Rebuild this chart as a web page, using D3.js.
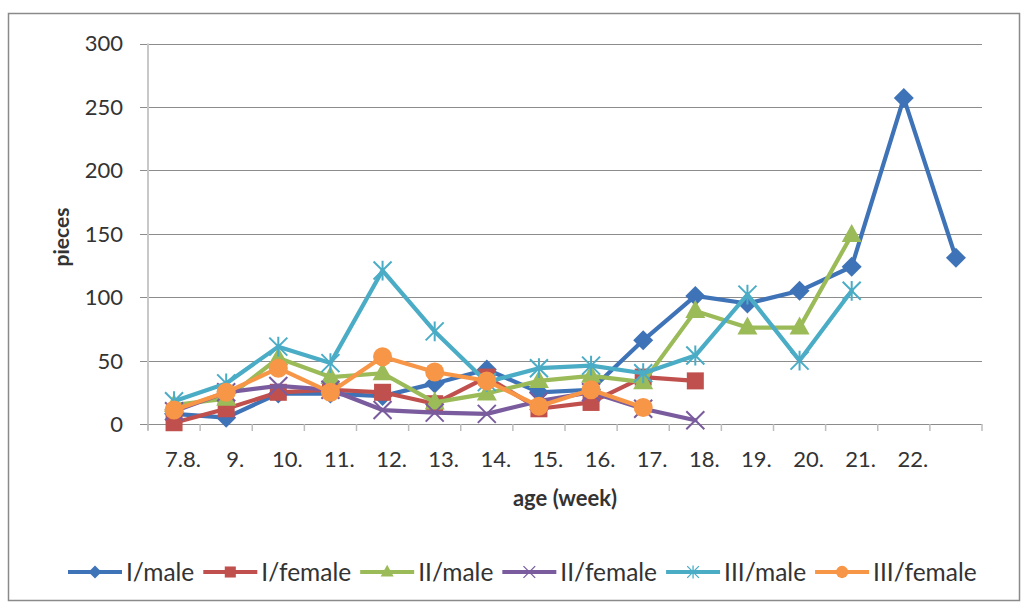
<!DOCTYPE html>
<html>
<head>
<meta charset="utf-8">
<script src="https://cdn.jsdelivr.net/npm/d3@7"></script>
<style>
  body { margin: 0; background: #fff; }
  text { font-family: Lato, "Open Sans", sans-serif; fill: #333; }
</style>
</head>
<body>
<svg id="chart" width="1027" height="605"></svg>
<script>
// Week categories (the last week has no label on the axis)
const categories = ["7.8.", "9.", "10.", "11.", "12.", "13.", "14.", "15.", "16.", "17.", "18.", "19.", "20.", "21.", "22.", ""];
const yTicks = [0, 50, 100, 150, 200, 250, 300];

// Counts per week for each group
const iMale     = [8, 5, 24, 24, 22, 32, 43, 25, 27, 66, 101, 95, 105, 124, 257, 131];
const iFemale   = [1, 12, 25, 27, 25, 16, 37, 12, 17, 37, 34, null, null, null, null, null];
const iiMale    = [15, 20, 52, 37, 40, 17, 24, 34, 38, 33, 89, 76, 76, 149, null, null];
const iiFemale  = [10, 25, 30, 27, 11, 9, 8, 18, 25, 12, 3, null, null, null, null, null];
const iiiMale   = [18, 32, 61, 48, 121, 73, 33, 44, 46, 40, 54, 102, 50, 105, null, null];
const iiiFemale = [11, 25, 44, 25, 53, 41, 34, 14, 27, 13, null, null, null, null, null, null];

const seriesNames  = ["I/male", "I/female", "II/male", "II/female", "III/male", "III/female"];
const seriesValues = [iMale, iFemale, iiMale, iiFemale, iiiMale, iiiFemale];
const seriesColors = ["#3f73b8", "#c0504d", "#9bbb59", "#7a5c9e", "#4bacc6", "#f79646"];
const seriesMarkers = ["diamond", "square", "triangle", "x", "asterisk", "circle"];

const svg = d3.select("#chart");

// Outer chart frame
svg.append("rect")
  .attr("x", 8.5).attr("y", 13.5)
  .attr("width", 1011).attr("height", 587)
  .attr("fill", "#fff").attr("stroke", "#8a8a8a").attr("stroke-width", 1.5);

const plot = { left: 148, right: 982, top: 43.5, bottom: 424 };

const x = d3.scaleBand().domain(d3.range(categories.length))
  .range([plot.left, plot.right]).paddingInner(0).paddingOuter(0);
const y = d3.scaleLinear().domain([0, 300]).range([plot.bottom, plot.top]);

// Horizontal gridlines
svg.append("g").selectAll("line").data(yTicks).join("line")
  .attr("x1", plot.left - 8).attr("x2", plot.right)
  .attr("y1", d => Math.round(y(d)) + 0.5).attr("y2", d => Math.round(y(d)) + 0.5)
  .attr("stroke", "#8c8c8c").attr("stroke-width", 1.2);

// Y axis labels
const yAxis = d3.axisLeft(y).tickValues(yTicks).tickSize(0).tickPadding(0);
const gy = svg.append("g").attr("transform", `translate(${plot.left - 25},0)`).call(yAxis);
gy.select(".domain").remove();
gy.selectAll("text").attr("font-size", 22).attr("dy", "0.34em")
  .style("font-family", "Lato, sans-serif").attr("fill", "#333");

// Vertical axis line
svg.append("line")
  .attr("x1", plot.left).attr("x2", plot.left)
  .attr("y1", plot.top).attr("y2", plot.bottom + 6)
  .attr("stroke", "#c8c8c8").attr("stroke-width", 2);

// X axis line and tick marks between categories
svg.append("line")
  .attr("x1", plot.left - 8).attr("x2", plot.right)
  .attr("y1", plot.bottom + 0.5).attr("y2", plot.bottom + 0.5)
  .attr("stroke", "#8c8c8c").attr("stroke-width", 1.2);
const boundaries = d3.range(categories.length + 1).map(i => plot.left + i * x.bandwidth());
svg.append("g").selectAll("line").data(boundaries).join("line")
  .attr("x1", d => d).attr("x2", d => d)
  .attr("y1", plot.bottom).attr("y2", plot.bottom + 7)
  .attr("stroke", "#bdbdbd").attr("stroke-width", 1.5);

// X tick labels
svg.append("g").selectAll("text").data(categories).join("text")
  .attr("x", (d, i) => x(i) + x.bandwidth() / 2 + 9)
  .attr("y", 467)
  .attr("text-anchor", "middle")
  .attr("font-size", 22)
  .text(d => d);

// Axis titles
svg.append("text")
  .attr("x", 565).attr("y", 506)
  .attr("text-anchor", "middle")
  .attr("font-size", 22).attr("font-weight", "bold")
  .attr("fill", "#222")
  .text("age (week)");
svg.append("text")
  .attr("transform", "translate(69,237) rotate(-90)")
  .attr("text-anchor", "middle")
  .attr("font-size", 21).attr("font-weight", "bold")
  .attr("fill", "#222")
  .text("pieces");

// Marker drawing
function drawMarker(g, type, color, cx, cy, scale = 1) {
  const s = scale;
  if (type === "diamond") {
    g.append("path").attr("d", `M${cx},${cy - 10 * s}L${cx + 10 * s},${cy}L${cx},${cy + 10 * s}L${cx - 10 * s},${cy}Z`)
      .attr("fill", color);
  } else if (type === "square") {
    g.append("rect").attr("x", cx - 8.5 * s).attr("y", cy - 8.5 * s)
      .attr("width", 17 * s).attr("height", 17 * s).attr("fill", color);
  } else if (type === "triangle") {
    g.append("path").attr("d", `M${cx},${cy - 11 * s}L${cx + 10 * s},${cy + 7 * s}L${cx - 10 * s},${cy + 7 * s}Z`)
      .attr("fill", color);
  } else if (type === "circle") {
    g.append("circle").attr("cx", cx).attr("cy", cy).attr("r", 9.5 * s).attr("fill", color);
  } else if (type === "x") {
    const r = 9 * s;
    g.append("path").attr("d", `M${cx - r},${cy - r}L${cx + r},${cy + r}M${cx - r},${cy + r}L${cx + r},${cy - r}`)
      .attr("stroke", color).attr("stroke-width", 2 * s).attr("fill", "none");
  } else if (type === "asterisk") {
    const r = 9 * s;
    g.append("path").attr("d", `M${cx - r},${cy - r}L${cx + r},${cy + r}M${cx - r},${cy + r}L${cx + r},${cy - r}M${cx},${cy - r * 1.1}L${cx},${cy + r * 1.1}`)
      .attr("stroke", color).attr("stroke-width", 2 * s).attr("fill", "none");
  }
}

// Series lines with markers
const line = d3.line()
  .defined(d => d.v !== null)
  .x(d => x(d.i) + x.bandwidth() / 2)
  .y(d => y(d.v));

seriesValues.forEach((vals, k) => {
  const g = svg.append("g");
  const pts = vals.map((v, i) => ({ i, v }));
  g.append("path").datum(pts)
    .attr("d", line)
    .attr("fill", "none")
    .attr("stroke", seriesColors[k])
    .attr("stroke-width", 4.2)
    .attr("stroke-linejoin", "round")
    .attr("stroke-linecap", "round");
  pts.filter(p => p.v !== null).forEach(p => {
    drawMarker(g, seriesMarkers[k], seriesColors[k], x(p.i) + x.bandwidth() / 2, y(p.v));
  });
});

// Legend
const legend = svg.append("g");
let lx = 68;
const ly = 572;
seriesNames.forEach((name, k) => {
  legend.append("line")
    .attr("x1", lx).attr("x2", lx + 54)
    .attr("y1", ly).attr("y2", ly)
    .attr("stroke", seriesColors[k]).attr("stroke-width", 4.2);
  drawMarker(legend, seriesMarkers[k], seriesColors[k], lx + 27, ly, 0.65);
  const t = legend.append("text")
    .attr("x", lx + 58).attr("y", ly + 8.5)
    .attr("font-size", 24.5)
    .text(name);
  lx += 58 + t.node().getComputedTextLength() + 9;
});
</script>
</body>
</html>
